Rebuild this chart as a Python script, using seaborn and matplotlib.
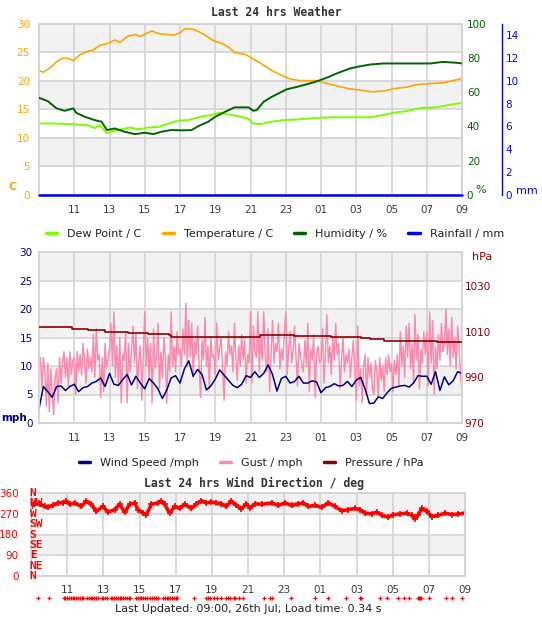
import numpy as np
import matplotlib
matplotlib.use("Agg")
import matplotlib.pyplot as plt
import seaborn as sns
from matplotlib.lines import Line2D

# ---------------- data (hours since 09:00 yesterday) ----------------
hour_ticks = [2, 4, 6, 8, 10, 12, 14, 16, 18, 20, 22, 24]
hour_labels = ["11", "13", "15", "17", "19", "21", "23", "01", "03", "05", "07", "09"]

temp_h = [0.0, 0.25, 0.7, 1.0, 1.3, 1.65, 1.95, 2.3, 2.8, 3.05, 3.45, 3.9, 4.3, 4.6, 5.05,
          5.5, 5.7, 6.0, 6.4, 6.7, 7.15, 7.7, 8.0, 8.3, 8.75, 9.05, 9.4, 9.9, 10.3, 10.75,
          11.1, 11.7, 12.0, 12.55, 13.15, 13.7, 14.25, 14.8, 15.8, 16.35, 16.9, 17.5, 18.05,
          18.9, 19.55, 20.15, 20.9, 21.45, 22.2, 22.9, 23.35, 24.0]
temp_c = [21.7, 21.5, 22.4, 23.3, 23.9, 23.9, 23.5, 24.5, 25.2, 25.3, 26.2, 26.5, 27.1, 26.7, 27.8,
          28.1, 27.7, 28.1, 28.7, 28.3, 28.1, 28.0, 28.4, 29.1, 29.0, 28.6, 28.0, 27.0, 26.6, 25.9,
          24.9, 24.6, 24.1, 23.1, 21.9, 21.0, 20.3, 20.0, 20.0, 19.5, 19.1, 18.65, 18.4,
          18.05, 18.2, 18.6, 18.9, 19.3, 19.5, 19.6, 19.9, 20.4]

dew_h = [0.0, 0.9, 1.85, 2.8, 3.15, 3.45, 3.85, 4.2, 4.7, 5.15, 5.65, 6.2, 6.75, 7.35, 7.9,
         8.45, 9.05, 9.4, 9.8, 10.25, 10.75, 11.3, 11.9, 12.15, 12.55, 13.15, 13.9, 14.65,
         15.8, 16.7, 17.65, 18.8, 19.55, 20.15, 20.9, 21.65, 22.4, 23.0, 23.55, 24.0]
dew_c = [12.5, 12.5, 12.4, 12.2, 11.7, 12.2, 10.8, 11.2, 11.5, 11.8, 11.5, 11.8, 11.9, 12.5, 13.0,
         13.1, 13.6, 13.8, 14.0, 14.4, 14.1, 13.8, 13.3, 12.5, 12.4, 12.8, 13.1, 13.2,
         13.5, 13.6, 13.6, 13.6, 14.0, 14.4, 14.7, 15.2, 15.3, 15.6, 15.9, 16.1]

hum_h = [0.0, 0.5, 1.0, 1.45, 1.95, 2.1, 2.6, 3.15, 3.55, 3.85, 4.3, 4.85, 5.45, 6.0, 6.5,
         6.95, 7.5, 8.1, 8.65, 9.05, 9.6, 10.0, 10.55, 11.1, 11.9, 12.15, 12.35, 12.75, 13.15,
         13.5, 14.05, 14.65, 15.2, 15.8, 16.35, 16.9, 17.65, 18.25, 18.8, 19.55, 20.5, 21.45,
         22.2, 22.9, 23.7, 24.0]
hum_pct = [56.7, 54.7, 50.5, 49.1, 50.5, 48.0, 45.6, 43.7, 42.7, 37.9, 38.8, 36.9, 35.5, 36.3, 35.5,
           36.9, 37.9, 37.7, 37.8, 40.2, 42.7, 45.6, 48.5, 51.1, 51.1, 49.1, 49.5, 54.4, 56.9,
           58.8, 61.6, 63.1, 64.6, 66.4, 68.5, 70.9, 73.8, 75.1, 76.1, 76.7, 76.7, 76.7,
           76.7, 77.6, 77.1, 76.7]

rain_h = [0.0, 24.0]
rain_mm = [0.0, 0.0]

# wind speed, 15 minute readings
wind_mph = [2.5, 6.4, 5.5, 4.5, 6.4, 6.5, 5.7, 6.4, 6.8, 5.5, 6.2, 6.4, 7.0, 7.3, 7.9, 6.4,
            8.7, 6.8, 6.6, 7.6, 8.5, 6.7, 8.2, 7.0, 6.0, 7.8, 7.0, 6.0, 4.3, 5.8, 7.9, 8.3,
            7.0, 9.5, 10.9, 8.2, 9.4, 8.5, 5.8, 6.5, 7.7, 9.3, 8.4, 7.5, 6.6, 6.2, 6.8, 8.3,
            8.0, 9.0, 8.0, 8.7, 10.2, 8.5, 5.6, 7.8, 8.2, 7.0, 7.3, 8.2, 7.0, 7.0, 7.4, 7.2,
            5.3, 6.2, 6.4, 6.9, 6.5, 6.6, 7.3, 6.4, 7.5, 8.0, 6.0, 3.4, 3.5, 4.6, 4.3, 5.3,
            6.1, 6.3, 6.5, 6.6, 6.3, 7.0, 8.3, 8.2, 8.2, 6.8, 9.0, 5.7, 8.1, 6.7, 7.4, 9.0, 8.7]
wind_h = np.arange(len(wind_mph)) / 4

# gusts, 5 minute readings (one row per hour)
gust_mph = [10.5, 11.5, 6.0, 11.5, 9.5, 3.0, 10.5, 2.0, 9.5, 5.0, 1.5, 8.0,
            9.5, 3.5, 11.5, 7.0, 10.5, 12.5, 8.0, 11.5, 6.5, 12.5, 8.5, 11.0,
            11.5, 5.0, 12.5, 9.0, 12.0, 8.5, 14.0, 10.5, 7.0, 13.0, 9.5, 11.5,
            9.0, 15.5, 8.0, 16.5, 11.0, 12.0, 4.5, 11.5, 5.5, 14.0, 9.5, 11.5,
            13.0, 17.5, 10.0, 19.5, 8.0, 13.5, 7.0, 15.0, 3.5, 12.0, 11.0, 16.0,
            3.5, 14.0, 9.0, 12.5, 17.0, 10.5, 15.5, 6.0, 11.0, 13.5, 4.0, 12.0,
            19.5, 10.0, 15.0, 8.0, 14.0, 3.5, 16.5, 9.5, 11.5, 17.5, 6.0, 12.5,
            8.0, 15.0, 11.5, 3.5, 12.0, 9.0, 19.5, 10.0, 13.5, 9.0, 16.0, 12.0,
            13.0, 10.0, 16.5, 12.0, 21.0, 10.0, 18.0, 11.5, 17.5, 8.0, 14.5, 12.0,
            17.0, 10.0, 4.5, 14.5, 11.0, 18.5, 10.0, 13.5, 6.0, 15.0, 11.5, 12.0,
            8.5, 17.5, 11.0, 13.0, 15.0, 9.5, 4.0, 12.5, 10.0, 16.0, 12.0, 13.5,
            9.0, 17.5, 11.5, 7.5, 13.5, 10.0, 15.5, 11.0, 14.5, 7.0, 12.0, 10.5,
            19.5, 7.0, 17.0, 12.5, 11.5, 19.5, 9.0, 15.5, 11.0, 19.5, 12.0, 9.0,
            16.5, 5.5, 12.0, 18.0, 10.5, 14.0, 12.5, 17.5, 9.5, 13.0, 11.0, 15.5,
            19.5, 8.5, 13.0, 16.0, 10.5, 12.5, 17.0, 11.5, 6.5, 14.0, 12.0, 10.0,
            9.0, 14.5, 10.0, 17.5, 5.5, 13.0, 11.0, 15.5, 4.5, 12.0, 13.5, 10.5,
            11.0, 16.5, 7.0, 12.5, 19.0, 10.5, 13.5, 8.5, 15.0, 11.0, 17.5, 12.0,
            14.0, 6.0, 11.0, 15.0, 9.0, 12.0, 10.5, 13.0, 8.0, 11.5, 14.5, 9.5,
            4.0, 17.0, 6.5, 9.5, 3.5, 10.0, 12.0, 5.0, 11.5, 8.0, 10.5, 6.0,
            5.0, 11.0, 9.0, 4.5, 11.5, 7.5, 10.0, 5.5, 11.5, 8.5, 12.0, 9.0,
            10.5, 5.5, 11.0, 8.5, 12.0, 6.5, 16.0, 10.0, 13.5, 8.0, 17.0, 11.5,
            17.5, 9.5, 14.0, 7.0, 19.0, 11.0, 15.5, 6.0, 13.0, 10.5, 16.0, 12.0,
            16.0, 6.5, 19.5, 10.5, 18.0, 5.0, 13.5, 9.5, 15.5, 11.0, 17.5, 12.5,
            14.0, 20.0, 12.0, 16.5, 10.0, 18.5, 11.5, 15.0, 9.5, 17.0, 13.5, 8.0,
            6.0]
gust_h = np.arange(len(gust_mph)) / 12

press_h = [0.0, 0.7, 1.85, 2.8, 3.75, 4.85, 5.05, 6.2, 7.35, 7.5, 9.4, 10.55, 12.05,
           12.55, 14.45, 15.8, 16.55, 17.3, 18.25, 18.8, 19.55, 20.9, 22.0, 22.6, 23.35, 24.0]
press_hpa = [1012.2, 1012.0, 1011.1, 1011.0, 1010.0, 1009.9, 1009.3, 1009.1, 1008.6, 1007.9,
             1007.7, 1007.9, 1007.9, 1008.4, 1008.3, 1008.2, 1007.6, 1007.5, 1007.2, 1006.7,
             1006.1, 1006.0, 1006.0, 1005.7, 1005.5, 1005.4]

dir_h = [0.05, 0.2, 0.48, 0.76, 0.94, 1.22, 1.49, 1.77, 1.95, 2.14, 2.41, 2.78, 3.06, 3.34,
         3.61, 3.98, 4.26, 4.63, 4.9, 5.18, 5.46, 5.73, 5.92, 6.2, 6.38, 6.66, 7.02, 7.21,
         7.39, 7.67, 7.95, 8.22, 8.5, 8.87, 9.14, 9.42, 9.7, 9.97, 10.25, 10.53, 10.8, 11.08,
         11.36, 11.63, 11.91, 12.11, 12.39, 12.76, 13.31, 13.68, 14.05, 14.42, 14.79, 15.06,
         15.34, 15.71, 16.08, 16.44, 16.81, 17.18, 17.55, 17.92, 18.2, 18.47, 18.84, 19.12,
         19.4, 19.76, 20.04, 20.41, 20.78, 21.05, 21.24, 21.42, 21.61, 21.88, 22.16, 22.53,
         22.9, 23.26, 23.63, 24.0]
dir_deg = [305, 316, 311, 302, 298, 306, 317, 317, 324, 311, 317, 302, 324, 311,
           280, 302, 277, 288, 311, 277, 311, 317, 288, 273, 266, 311, 317, 324,
           311, 273, 302, 293, 311, 293, 311, 327, 317, 321, 317, 313, 302, 324,
           306, 291, 313, 295, 313, 311, 317, 306, 317, 306, 313, 317,
           302, 306, 298, 317, 302, 283, 288, 293, 288, 273, 269, 277,
           263, 255, 266, 269, 273, 263, 249, 266, 293, 280, 258, 263,
           273, 266, 269, 273]

event_h = [0.4, 1.0, 1.8, 1.9, 2.0, 2.1, 2.2, 2.3, 2.4, 2.5, 2.6, 2.7, 2.8, 2.9, 3.1, 3.2,
           3.3, 3.4, 3.5, 3.6, 3.7, 3.9, 4.0, 4.1, 4.2, 4.4, 4.5, 4.6, 4.7, 4.8, 4.9, 5.0,
           5.1, 5.2, 5.3, 5.4, 5.5, 5.8, 5.9, 6.0, 6.1, 6.2, 6.3, 6.4, 6.6, 6.7, 6.8, 6.9,
           7.0, 7.3, 7.4, 7.5, 7.6, 7.7, 7.8, 7.9, 8.0, 8.1, 9.0, 9.7, 9.8, 9.9, 10.1, 10.3,
           10.5, 10.8, 10.9, 11.0, 11.2, 11.3, 11.5, 11.7, 12.9, 13.2, 13.3, 14.4, 15.7,
           16.4, 17.4, 18.2, 18.25, 19.3, 19.7, 20.3, 20.6, 20.9, 21.4, 21.45, 21.5, 21.55,
           22.0, 22.95, 23.3, 23.85]

compass_deg = [360, 315, 270, 225, 180, 135, 90, 45, 0]
compass_lab = ["N", "NW", "W", "SW", "S", "SE", "E", "NE", "N"]

# ---------------- style ----------------
sns.set_style("white")
plt.rcParams["font.family"] = ["DejaVu Sans"]

ORANGE, DEW, HUM, RAIN = "#ffa500", "#7cfc00", "#006400", "#0000ff"
NAVY, GUST, PRESS, RED = "#000080", "#ff89ad", "#8b0000", "#ff0000"
GRID, BAND, TXT = "#d3d3d3", "#f2f2f2", "#3a3a3a"

W, H = 542, 619
fig = plt.figure(figsize=(W / 100, H / 100), dpi=100)


def rect(l, t, r, b):
    return [l / W, 1 - b / H, (r - l) / W, (b - t) / H]


def ptext(x, y, s, **kw):
    fig.text(x / W, 1 - y / H, s, ha=kw.pop("ha", "center"), va=kw.pop("va", "center"), **kw)


def base_axes(ax, ymax, band_step, xpad):
    ax.set_xlim(0, 24)
    ax.set_ylim(0, ymax)
    for lo in np.arange(band_step, ymax, 2 * band_step):
        ax.axhspan(lo, lo + band_step, color=BAND, zorder=0, lw=0)
    ax.set_xticks(hour_ticks)
    ax.set_xticklabels(hour_labels)
    ax.grid(True, color=GRID, lw=1.2)
    ax.set_axisbelow(True)
    ax.tick_params(axis="x", length=0, pad=xpad, labelsize=7.5, labelcolor=TXT)
    for s in ax.spines.values():
        s.set_color(GRID)
        s.set_linewidth(1.3)


# ---------------- panel 1: weather ----------------
ptext(276, 13, "Last 24 hrs Weather", family="DejaVu Sans Mono", weight="bold", size=8.3, color="#333333")
ax1 = fig.add_axes(rect(39, 23.5, 462, 195))
base_axes(ax1, 30, 5, 7)
ax1.set_yticks(range(0, 31, 5))
ax1.tick_params(axis="y", length=0, pad=6.5, labelsize=7.5, labelcolor=ORANGE)

axh = ax1.twinx()
axh.set_ylim(0, 100)
axh.set_yticks(range(0, 101, 20))
axh.tick_params(axis="y", length=0, pad=3.5, labelsize=7.5, labelcolor=HUM)
axr = ax1.twinx()
axr.set_ylim(0, 15)
axr.set_yticks(range(0, 15, 2))
axr.spines["right"].set_position(("axes", (502 - 39) / 423))
axr.spines["right"].set_color(RAIN)
axr.spines["right"].set_linewidth(1.0)
axr.tick_params(axis="y", length=0, pad=2.5, labelsize=7.5, labelcolor=RAIN)
for a in (axh, axr):
    for k in ("top", "bottom", "left"):
        a.spines[k].set_visible(False)
axh.spines["right"].set_color(GRID)

sns.lineplot(x=temp_h, y=temp_c, ax=ax1, color=ORANGE, linewidth=1.2)
sns.lineplot(x=dew_h, y=dew_c, ax=ax1, color=DEW, linewidth=1.4)
sns.lineplot(x=hum_h, y=hum_pct, ax=axh, color=HUM, linewidth=1.4)
sns.lineplot(x=rain_h, y=rain_mm, ax=axr, color=RAIN, linewidth=1.8, clip_on=False)
for a in (ax1, axh, axr):
    a.set_xlim(0, 24)
    a.set_ylabel("")

ptext(13, 187, "C", color=ORANGE, weight="bold", size=8)
ptext(481, 190, "%", color=HUM, size=8)
ptext(527, 191, "mm", color=RAIN, size=8)

h1 = [Line2D([], [], color=c, lw=2.5) for c in (DEW, ORANGE, HUM, RAIN)]
fig.legend(h1, ["Dew Point / C", "Temperature / C", "Humidity / %", "Rainfall / mm"],
           loc="center", bbox_to_anchor=(275 / W, 1 - 234 / H), ncol=4, frameon=False,
           fontsize=8, handlelength=1.0, handletextpad=0.9, columnspacing=1.9, labelcolor="#222222")

# ---------------- panel 2: wind ----------------
ax2 = fig.add_axes(rect(39, 252, 462, 423))
base_axes(ax2, 30, 5, 7.5)
ax2.set_yticks(range(0, 31, 5))
ax2.tick_params(axis="y", length=0, pad=4.5, labelsize=7.5, labelcolor=NAVY)
axp = ax2.twinx()
axp.set_ylim(970, 1045)
axp.set_yticks([970, 990, 1010, 1030])
axp.tick_params(axis="y", length=0, pad=2, labelsize=7.5, labelcolor=PRESS)
for s in axp.spines.values():
    s.set_visible(False)

sns.lineplot(x=gust_h, y=gust_mph, ax=ax2, color=GUST, linewidth=1.05)
sns.lineplot(x=wind_h, y=wind_mph, ax=ax2, color=NAVY, linewidth=1.1)
sns.lineplot(x=press_h, y=press_hpa, ax=axp, color=PRESS, linewidth=1.2, drawstyle="steps-post")
for a in (ax2, axp):
    a.set_xlim(0, 24)
    a.set_ylabel("")

ptext(1, 418, "mph", color=NAVY, weight="bold", size=7.5, ha="left")
ptext(482, 257, "hPa", color=PRESS, size=8)

h2 = [Line2D([], [], color=c, lw=2.5) for c in (NAVY, GUST, PRESS)]
fig.legend(h2, ["Wind Speed /mph", "Gust / mph", "Pressure / hPa"],
           loc="center", bbox_to_anchor=(251 / W, 1 - 463 / H), ncol=3, frameon=False,
           fontsize=8, handlelength=1.0, handletextpad=0.9, columnspacing=1.9, labelcolor="#222222")

# ---------------- panel 3: wind direction ----------------
ptext(254, 483, "Last 24 hrs Wind Direction / deg", family="DejaVu Sans Mono", weight="bold",
      size=8.3, color="#333333")
ax3 = fig.add_axes(rect(31, 493, 465, 576))
base_axes(ax3, 360, 90, 6.5)
ax3.set_yticks(range(0, 361, 90))
ax3.tick_params(axis="y", length=0, pad=9, labelsize=7.5, labelcolor=RED)
sns.lineplot(x=dir_h, y=dir_deg, ax=ax3, color=RED, linewidth=2.6)
sns.scatterplot(x=dir_h, y=dir_deg, ax=ax3, color=RED, marker="+", s=25, linewidth=1.2)
ax3.set_xlim(0, 24)
ax3.set_ylim(0, 360)
ax3.set_ylabel("")
for d, lab in zip(compass_deg, compass_lab):
    ax3.text(-0.003, d, lab, transform=ax3.get_yaxis_transform(), ha="left", va="center",
             family="DejaVu Sans Mono", weight="bold", size=8, color=RED, clip_on=False)
ax3.scatter(event_h, [-0.265] * len(event_h), transform=ax3.get_xaxis_transform(),
            marker="+", s=9, color=RED, lw=0.9, clip_on=False)

ptext(248, 609, "Last Updated: 09:00, 26th Jul; Load time: 0.34 s", size=8, color="#222222")

fig.savefig("out.png", dpi=100)
